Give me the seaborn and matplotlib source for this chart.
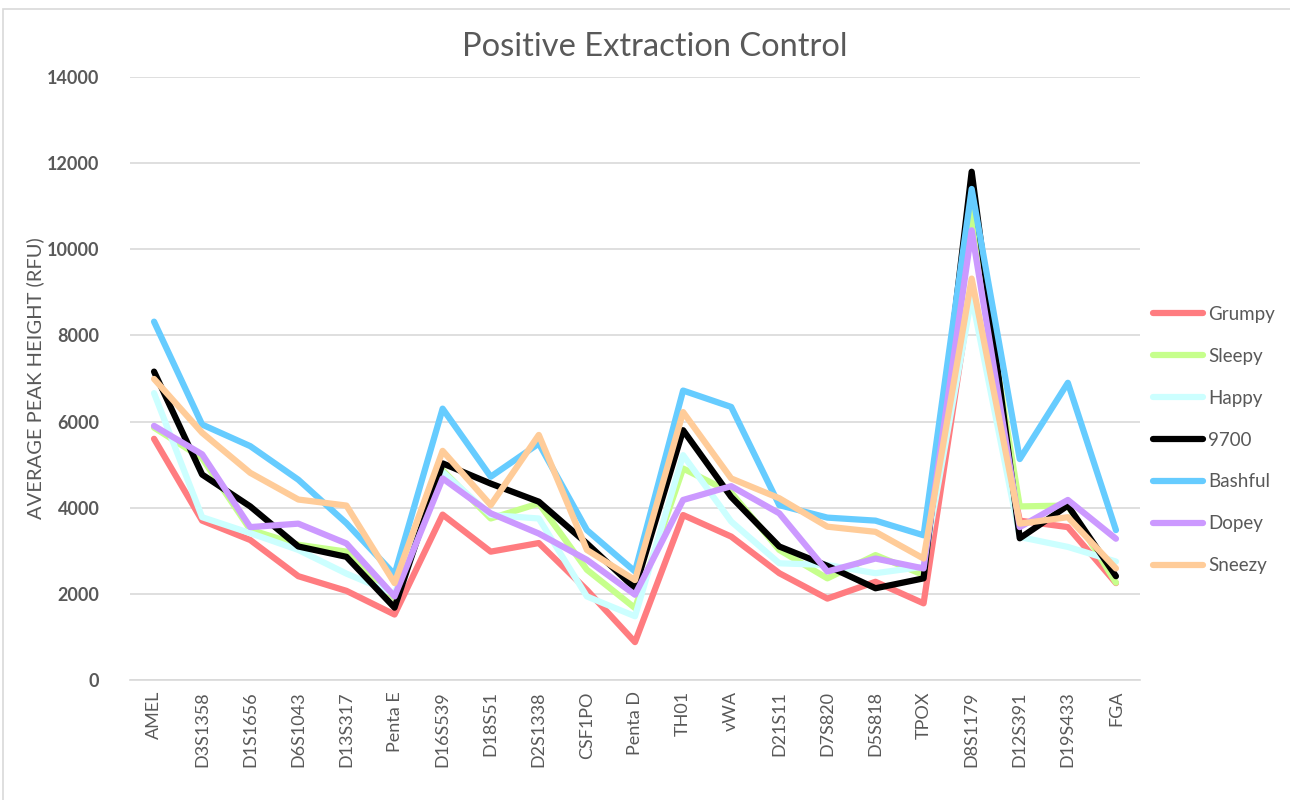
import pandas as pd
import seaborn as sns
import matplotlib.pyplot as plt
from matplotlib.patches import Rectangle

# loci (x categories)
loci = ["AMEL", "D3S1358", "D1S1656", "D6S1043", "D13S317", "Penta E",
        "D16S539", "D18S51", "D2S1338", "CSF1PO", "Penta D", "TH01", "vWA",
        "D21S11", "D7S820", "D5S818", "TPOX", "D8S1179", "D12S391",
        "D19S433", "FGA"]

# average peak height per locus
grumpy  = [5600, 3700, 3250, 2410, 2070, 1520, 3840, 2980, 3180, 2090, 880,
           3830, 3330, 2480, 1890, 2280, 1780, 9150, 3700, 3550, 2250]
sleepy  = [5860, 5150, 3490, 3140, 2980, 1900, 4870, 3750, 4100, 2560, 1670,
           4910, 4350, 3020, 2360, 2900, 2440, 10860, 4030, 4050, 2260]
happy   = [6660, 3780, 3410, 3020, 2470, 2000, 4830, 3830, 3750, 1940, 1480,
           5220, 3680, 2710, 2670, 2480, 2630, 8900, 3320, 3090, 2750]
s9700   = [7160, 4770, 4030, 3100, 2860, 1680, 5030, 4560, 4140, 3170, 2130,
           5800, 4250, 3100, 2650, 2130, 2360, 11800, 3290, 4050, 2410]
bashful = [8320, 5930, 5430, 4650, 3640, 2450, 6300, 4720, 5490, 3480, 2520,
           6720, 6340, 4060, 3770, 3700, 3360, 11400, 5130, 6900, 3480]
dopey   = [5900, 5240, 3550, 3630, 3170, 1940, 4680, 3870, 3400, 2790, 1980,
           4180, 4500, 3870, 2520, 2820, 2590, 10440, 3550, 4180, 3280]
sneezy  = [6990, 5740, 4810, 4190, 4050, 2250, 5320, 4060, 5690, 3020, 2320,
           6220, 4680, 4220, 3560, 3440, 2820, 9320, 3630, 3780, 2590]

names = ["Grumpy", "Sleepy", "Happy", "9700", "Bashful", "Dopey", "Sneezy"]
colors = ["#FF7C80", "#C6FF8C", "#CCFFFF", "#000000", "#66CCFF", "#CC99FF", "#FFCC99"]
series = [grumpy, sleepy, happy, s9700, bashful, dopey, sneezy]

rows = []
for n, vals in zip(names, series):
    for i, v in enumerate(vals):
        rows.append({"locus": i, "sample": n, "rfu": v})
df = pd.DataFrame(rows)

sns.set_style("white")
plt.rcParams['font.family'] = ['Lato', 'DejaVu Sans']
txt = "#595959"

fig = plt.figure(figsize=(12.9, 8), dpi=100)
ax = fig.add_axes([130/1290, 1-680/800, (1140-130)/1290, (680-77)/800])

sns.lineplot(data=df, x="locus", y="rfu", hue="sample", hue_order=names,
             palette=dict(zip(names, colors)), linewidth=4.5, ax=ax,
             sort=False, legend=True)

ax.set_xlim(-0.5, 20.5)
ax.set_ylim(0, 14000)
ax.set_yticks(range(0, 14001, 2000))
ax.set_xticks(range(len(loci)))
ax.set_xticklabels(loci, rotation=90, fontsize=13, color=txt)
ax.tick_params(axis="y", labelsize=13, labelcolor=txt, length=0, pad=22)
ax.tick_params(axis="x", length=0, pad=8)
for t in ax.get_yticklabels():
    t.set_fontweight("bold")
ax.yaxis.grid(True, color="#D9D9D9", linewidth=1.2)
ax.set_axisbelow(True)
for s in ["top", "right", "left"]:
    ax.spines[s].set_visible(False)
ax.spines["bottom"].set_color("#D9D9D9")
ax.spines["bottom"].set_linewidth(1.2)

ax.set_xlabel("")
ax.set_ylabel("AVERAGE PEAK HEIGHT (RFU)", fontsize=14.5, color=txt, labelpad=2)
fig.text(655/1290, 1-47/800, "Positive Extraction Control", ha="center",
         va="center", fontsize=23.5, color=txt)

leg = ax.legend(loc="center left", bbox_to_anchor=(0.996, 0.398), frameon=False,
                fontsize=13.5, handlelength=2.7, handletextpad=0.25,
                labelspacing=1.33)
for t in leg.get_texts():
    t.set_color(txt)
for h in leg.get_lines():
    h.set_linewidth(4.5)

# chart border like spreadsheet chart area
fig.patches.append(Rectangle((3/1290, -0.01), 1.1, 1-9/800 + 0.01,
                             transform=fig.transFigure, fill=False,
                             edgecolor="#D9D9D9", linewidth=1.2))

fig.savefig("out.png", dpi=100)
